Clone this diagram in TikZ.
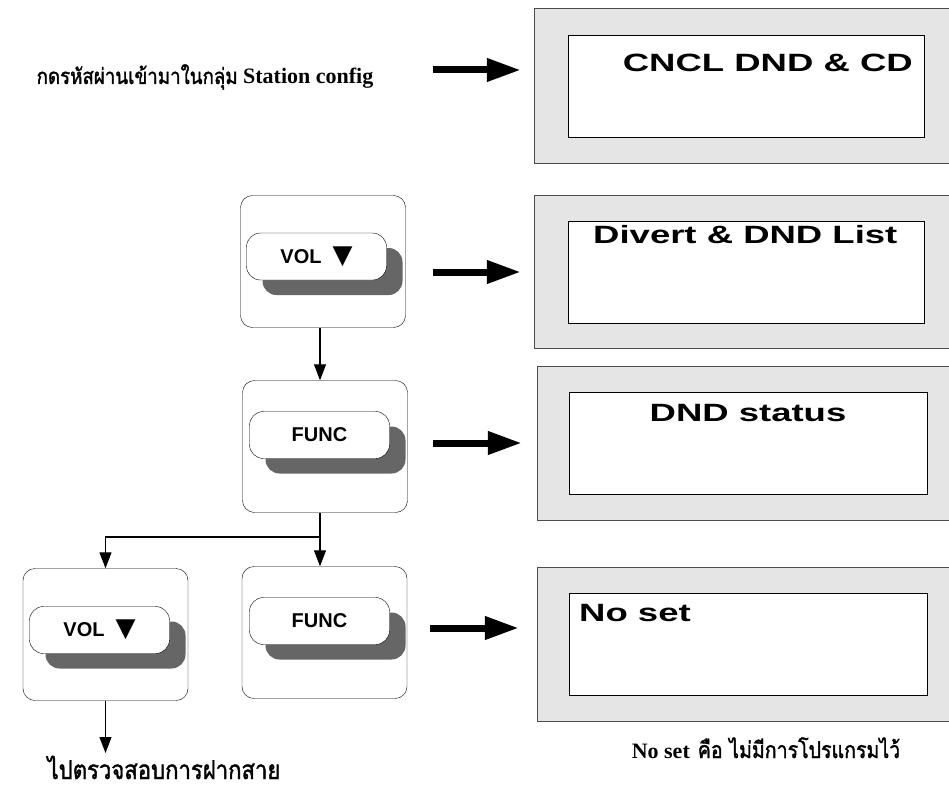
\documentclass[tikz,border=0pt]{standalone}
\usepackage{fontspec}
\setmainfont{Liberation Serif}
\newfontfamily\thaifont[Script=Thai,AutoFakeBold=1.5,FakeStretch=0.85]{Loma}
\newfontfamily\keyfont{Liberation Sans}
\newfontfamily\lcdfont[FakeStretch=1.46]{Liberation Sans}
\newfontfamily\symfont{DejaVu Sans}
\usetikzlibrary{positioning,arrows.meta,shadows}
\tikzset{
  % --- LCD screens -----------------------------------------------------------
  lcd/.style={rectangle,draw=black!70,fill=black!10,inner sep=0pt},
  lcdin/.style={rectangle,draw=black,fill=white,inner sep=0pt,
                minimum height=102pt},
  lcdtxt/.style={inner sep=0pt,font=\lcdfont\bfseries\fontsize{25}{28}\selectfont},
  % --- keys and key panels ---------------------------------------------------
  panel/.style={rectangle,rounded corners=12pt,draw=black,fill=white,
                minimum width=165pt,minimum height=132pt},
  key/.style={rectangle,rounded corners=14pt,draw=black,fill=white,
              minimum width=140pt,minimum height=47pt,inner sep=0pt,
              font=\keyfont\bfseries\fontsize{20}{24}\selectfont,
              drop shadow={shadow xshift=16pt,shadow yshift=-15pt,
                           fill=black!60,opacity=1}},
  % --- connectors ------------------------------------------------------------
  flow/.style={-{Triangle[length=16pt,width=12pt]},line width=1.2pt},
  show/.style={-{Triangle[length=34pt,width=22pt]},line width=7pt},
  note/.style={inner sep=0pt,font=\bfseries\fontsize{22}{26}\selectfont},
}
\newcommand{\downtri}{{\symfont\fontsize{26}{28}\selectfont ▼}}

\begin{document}
\begin{tikzpicture}[x=1pt, y=-1pt]
  \useasboundingbox (0,0) rectangle (949,789);

  % screens
  \node[lcd,minimum width=418pt,minimum height=155pt] (d1) at (743,85.5) {};
  \node[lcd,minimum width=418pt,minimum height=153pt] (d2) at (743,271.5) {};
  \node[lcd,minimum width=415pt,minimum height=154pt] (d3) at (744.5,443) {};
  \node[lcd,minimum width=415pt,minimum height=154pt] (d4) at (744.5,644) {};
  \node[lcdin,minimum width=356pt] (i1) at (746,86)  {};
  \node[lcdin,minimum width=356pt] (i2) at (746,272) {};
  \node[lcdin,minimum width=358pt] (i3) at (748,443) {};
  \node[lcdin,minimum width=358pt] (i4) at (748,644) {};
  \node[lcdtxt,anchor=east] (t1) at (913,63)  {CNCL DND \& CD};
  \node[lcdtxt,anchor=west] (t2) at (593,235) {Divert \& DND List};
  \node[lcdtxt]             (t3) at (748,413) {DND status};
  \node[lcdtxt,anchor=west] (t4) at (579,613) {No set};

  % keys
  \node[panel] (pA) at (323,261.5) {};
  \node[panel] (pB) at (325,446.5) {};
  \node[panel] (pC) at (105.5,634.5) {};
  \node[panel] (pD) at (324.5,632.5) {};
  \node[key] (kA) at (316.5,256.5) {VOL\hspace{11pt}\downtri};
  \node[key] (kB) at (319.5,435)   {FUNC};
  \node[key] (kC) at (99.5,630)    {VOL\hspace{11pt}\downtri};
  \node[key] (kD) at (319.5,621)   {FUNC};

  % texts
  \node[note,anchor=base] (enter) at (205,84)
    {{\thaifont\fontsize{22}{25}\selectfont กดรหัสผ่านเข้ามาในกลุ่ม} Station config};
  \node[note,anchor=base] (nsnote) at (766,758)
    {No set\hspace{8pt}{\thaifont\fontsize{23}{26}\selectfont คือ ไม่มีการโปรแกรมไว้}};
  \node[note,anchor=base] (gotxt) at (164,779)
    {\thaifont\fontsize{26}{29}\selectfont ไปตรวจสอบการฝากสาย};

  % flow
  \coordinate (jn) at (320,537);
  \coordinate (fwd) at (105.5,753);
  \draw[flow] (jn |- pA.south) -- (jn |- pB.north);
  \draw[line width=1.2pt] (jn |- pB.south) -- (jn);
  \draw[flow] (jn) -| (pC.north);
  \draw[flow] (jn) -- (jn |- pD.north);
  \draw[flow] (pC.south) -- (fwd);

  % screen arrows
  \coordinate (s1) at (433,70);
  \coordinate (s2) at (433,272);
  \coordinate (s3) at (433,443);
  \coordinate (s4) at (430,628);
  \draw[show,shorten >=13pt] (s1) -- (s1 -| d1.west);
  \draw[show,shorten >=13pt] (s2) -- (s2 -| d2.west);
  \draw[show,shorten >=15pt] (s3) -- (s3 -| d3.west);
  \draw[show,shorten >=18pt] (s4) -- (s4 -| d4.west);
\end{tikzpicture}
\end{document}
